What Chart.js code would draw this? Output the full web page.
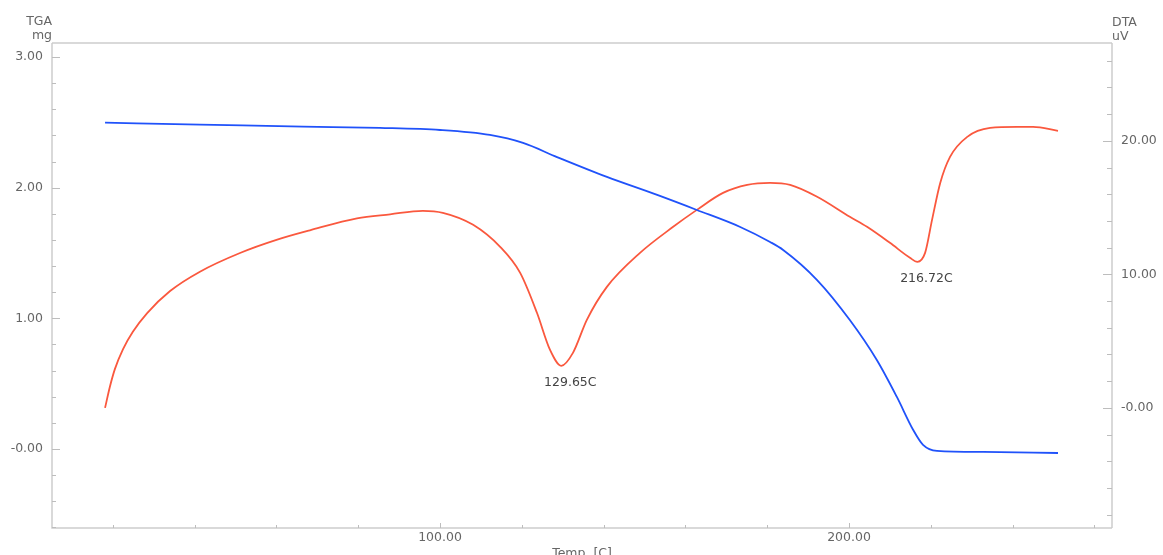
<!DOCTYPE html>
<html><head><meta charset="utf-8">
<script src="https://cdn.jsdelivr.net/npm/chart.js@4/dist/chart.umd.min.js"></script>
<style>html,body{margin:0;padding:0;background:#fff;overflow:hidden;}</style>
</head><body>
<canvas id="c" width="1163" height="555"></canvas>
<script>
// ---- data ----
const tgaTemp = [18.1, 41.3, 66.5, 85.3, 100.0, 112.2, 120.3, 128.6, 140.8, 153.1, 162.8, 173.4, 180.7, 183.9, 192.2, 200.2, 206.8, 211.7, 215.7, 218.1, 221.5, 232.8, 251.1];
const tgaMass = [2.497, 2.483, 2.467, 2.457, 2.441, 2.403, 2.342, 2.234, 2.082, 1.944, 1.829, 1.699, 1.584, 1.523, 1.293, 0.987, 0.681, 0.398, 0.145, 0.031, -0.015, -0.023, -0.031];

const dtaTemp = [18.1, 19.3, 20.5, 22.5, 24.9, 28.4, 34.0, 41.3, 51.1, 60.2, 68.2, 79.7, 87.8, 95.8, 100.7, 108.1, 114.7, 119.6, 123.7, 126.9, 129.65, 132.5, 135.9, 140.8, 148.9, 157.0, 162.8, 169.2, 175.1, 180.7, 185.6, 192.2, 200.2, 204.4, 210.0, 214.9, 216.72, 218.6, 220.3, 222.3, 224.7, 228.9, 234.5, 241.1, 245.0, 251.1];
const dtaSignal = [0.00, 1.60, 2.90, 4.40, 5.70, 7.10, 8.75, 10.20, 11.60, 12.60, 13.30, 14.20, 14.50, 14.76, 14.61, 13.71, 12.06, 10.11, 7.12, 4.34, 3.15, 4.12, 6.59, 9.06, 11.61, 13.56, 14.83, 16.10, 16.70, 16.85, 16.70, 15.81, 14.31, 13.56, 12.36, 11.24, 10.94, 11.61, 14.08, 16.85, 18.80, 20.30, 20.97, 21.05, 21.05, 20.75];

const peakTemps = [129.65, 216.72];
const peakSignals = [3.15, 10.94];
const peakLabels = ['129.65C', '216.72C'];

const xTicks = [100, 200];
const xTickLabels = ['100.00', '200.00'];
const tgaTicks = [0, 1, 2, 3];
const tgaTickLabels = ['-0.00', '1.00', '2.00', '3.00'];
const dtaTicks = [0, 10, 20];
const dtaTickLabels = ['-0.00', '10.00', '20.00'];

// ---- chart ----
const FONT = 'DejaVu Sans';
const tgaPts = tgaTemp.map((t, i) => ({x: t, y: tgaMass[i]}));
const dtaPts = dtaTemp.map((t, i) => ({x: t, y: dtaSignal[i]}));

function minorTicks(ctx, scale, from, to, step, majors, majLen, minLen, side) {
  const n = Math.round((to - from) / step);
  for (let k = 0; k <= n; k++) {
    const v = from + k * step;
    const isMaj = majors.some(m => Math.abs(m - v) < 1e-6);
    const len = isMaj ? majLen : minLen;
    const p = Math.round(scale.getPixelForValue(v)) + 0.5;
    ctx.beginPath();
    if (side === 'bottom') { const y = scale.top; ctx.moveTo(p, y); ctx.lineTo(p, y - len); }
    else if (side === 'left') { const x = scale.right; ctx.moveTo(x, p); ctx.lineTo(x + len, p); }
    else { const x = scale.left; ctx.moveTo(x, p); ctx.lineTo(x - len, p); }
    ctx.stroke();
  }
}

const framePlugin = {
  id: 'frame',
  afterDraw(chart) {
    const {ctx, chartArea: a, scales} = chart;
    const x = scales.x, yL = scales.yL, yR = scales.yR;
    ctx.save();
    ctx.strokeStyle = '#cdcdcd';
    ctx.lineWidth = 1.5;
    ctx.beginPath();
    ctx.moveTo(a.left, a.top); ctx.lineTo(a.right, a.top);
    ctx.moveTo(a.left, a.top); ctx.lineTo(a.left, a.bottom); ctx.lineTo(a.right, a.bottom);
    ctx.moveTo(a.right, a.top); ctx.lineTo(a.right, a.bottom);
    ctx.stroke();
    ctx.lineWidth = 1;
    ctx.strokeStyle = '#bdbdbd';
    minorTicks(ctx, x, 20, 260, 20, xTicks, 5, 3, 'bottom');
    minorTicks(ctx, yL, -0.6, 3.0, 0.2, tgaTicks, 8, 4, 'left');
    minorTicks(ctx, yR, -8, 26, 2, dtaTicks, 9, 5, 'right');

    // axis titles
    ctx.fillStyle = '#666';
    ctx.font = '12.5px "' + FONT + '"';
    ctx.textBaseline = 'alphabetic';
    ctx.textAlign = 'right';
    ctx.fillText('TGA', a.left, 25);
    ctx.fillText('mg', a.left, 39);
    ctx.textAlign = 'left';
    ctx.fillText('DTA', a.right, 26);
    ctx.fillText('uV', a.right, 40);
    ctx.textAlign = 'center';
    ctx.fillText('Temp  [C]', (a.left + a.right) / 2, 557);

    // peak labels
    ctx.fillStyle = '#444';
    ctx.textAlign = 'center';
    peakTemps.forEach((t, i) => {
      const px = x.getPixelForValue(t) + 9;
      const py = yR.getPixelForValue(peakSignals[i]) + 20;
      ctx.fillText(peakLabels[i], px, py);
    });
    ctx.restore();
  }
};

new Chart(document.getElementById('c'), {
  type: 'line',
  data: {
    datasets: [
      {label: 'TGA', data: tgaPts, yAxisID: 'yL', borderColor: 'rgb(32,82,250)', borderWidth: 1.8,
       pointRadius: 0, cubicInterpolationMode: 'monotone', fill: false},
      {label: 'DTA', data: dtaPts, yAxisID: 'yR', borderColor: 'rgb(250,88,62)', borderWidth: 1.8,
       pointRadius: 0, cubicInterpolationMode: 'monotone', fill: false}
    ]
  },
  plugins: [framePlugin],
  options: {
    responsive: false,
    devicePixelRatio: 1,
    animation: false,
    layout: {padding: {top: 43, left: 0, right: 0, bottom: 0}},
    plugins: {legend: {display: false}, tooltip: {enabled: false}},
    font: {family: FONT},
    scales: {
      x: {
        type: 'linear', position: 'bottom', min: 5.13, max: 264.3,
        grid: {display: false, drawTicks: false}, border: {display: false},
        afterBuildTicks: ax => { ax.ticks = xTicks.map(v => ({value: v})); },
        afterFit: ax => { ax.height = 27; },
        ticks: {autoSkip: false, maxRotation: 0, padding: 2, color: '#666',
                font: {family: FONT, size: 12.5},
                callback: (v, i) => xTickLabels[i]}
      },
      yL: {
        type: 'linear', position: 'left', min: -0.605, max: 3.107,
        grid: {display: false, drawTicks: false}, border: {display: false},
        afterBuildTicks: ax => { ax.ticks = tgaTicks.map(v => ({value: v})); },
        afterFit: ax => { ax.width = 52; },
        ticks: {autoSkip: false, padding: 9, color: '#666',
                font: {family: FONT, size: 12.5},
                callback: (v, i) => tgaTickLabels[i]}
      },
      yR: {
        type: 'linear', position: 'right', min: -9, max: 27.33,
        grid: {display: false, drawTicks: false}, border: {display: false},
        afterBuildTicks: ax => { ax.ticks = dtaTicks.map(v => ({value: v})); },
        afterFit: ax => { ax.width = 51; },
        ticks: {autoSkip: false, padding: 9, color: '#666',
                font: {family: FONT, size: 12.5},
                callback: (v, i) => dtaTickLabels[i]}
      }
    }
  }
});
</script>
</body></html>
